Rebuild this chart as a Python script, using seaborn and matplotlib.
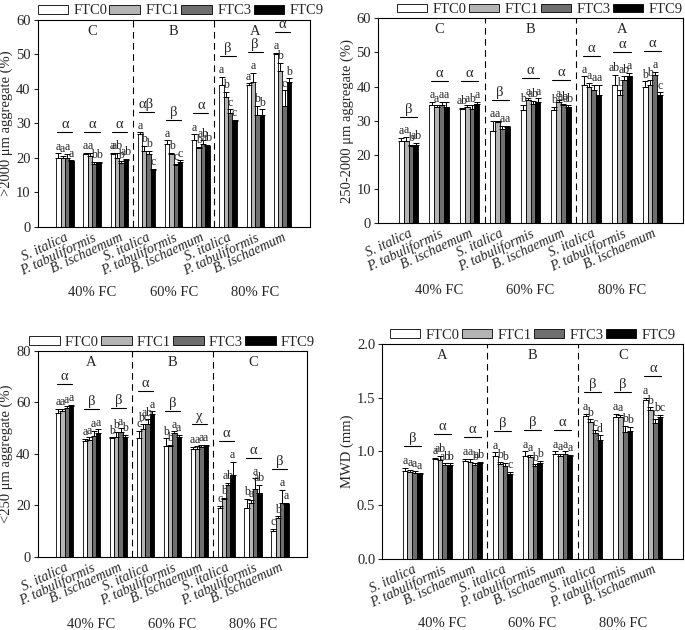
import numpy as np
import pandas as pd
import matplotlib
matplotlib.use('Agg')
import matplotlib.pyplot as plt
import seaborn as sns
from matplotlib.patches import Patch

# categories
moisture = ['40% FC', '60% FC', '80% FC']
species = ['S. italica', 'P. tabuliformis', 'B. ischaemum']
ftc = ['FTC0', 'FTC1', 'FTC3', 'FTC9']
ftc_colors = ['white', '#b4b4b4', '#6e6e6e', 'black']

# >2000 um aggregate (%), groups in order 40S,40P,40B,60S,...; each row FTC0,1,3,9
gt2000_mean = [[20, 20, 20, 19], [21, 20.5, 18.3, 18.5], [21, 20, 18.5, 19.2],
               [27, 22, 21, 16.5], [24, 21, 17.8, 18.7], [25, 22.7, 24, 23.5],
               [41, 37.5, 33, 30.5], [41, 42, 32.5, 32.5], [50, 45, 35, 42]]
gt2000_err = [[1.3, 0.5, 1.2, 0.3], [0.5, 1.0, 0.5, 0.3], [0.5, 1.5, 0.5, 0.5],
              [0.3, 1.5, 1.0, 0.3], [1.0, 0.5, 0.5, 0.5], [1.8, 0.5, 1.0, 0.3],
              [2.5, 1.5, 1.0, 0.5], [0.5, 2.5, 2.5, 1.5], [0.3, 2.5, 4.5, 1.0]]
gt2000_letters = [['a', 'a', 'a', 'a'], ['a', 'a', 'b', 'b'], ['a', 'ab', 'b', 'ab'],
                  ['a', 'b', 'b', 'c'], ['a', 'b', 'c', 'c'], ['a', 'b', 'ab', 'ab'],
                  ['a', 'b', 'c', 'c'], ['a', 'a', 'b', 'b'], ['a', 'b', 'c', 'b']]
gt2000_group = ['α', 'α', 'α', 'αβ', 'β', 'α', 'β', 'β', 'α']
gt2000_block = ['C', 'B', 'A']

# 250-2000 um aggregate (%)
mid_mean = [[24, 24, 22.5, 23], [34.5, 34, 34.5, 34], [33.5, 34, 33.5, 35],
            [27, 29.5, 27.5, 28], [33, 36, 35, 35.5], [33, 35.5, 34.5, 34],
            [40.5, 40, 39, 37.5], [40.5, 37.5, 42, 43], [40, 40.5, 43.5, 37.5]]
mid_err = [[1.0, 1.2, 0.5, 0.5], [1.0, 0.5, 1.0, 1.5], [0.3, 0.5, 1.0, 0.5],
           [3.0, 0.5, 1.0, 0.5], [1.5, 0.5, 0.8, 1.0], [1.0, 0.5, 0.5, 0.5],
           [2.5, 1.0, 1.5, 3.0], [3.0, 1.5, 1.0, 1.0], [1.5, 1.5, 0.8, 0.8]]
mid_letters = [['a', 'a', 'b', 'ab'], ['a', 'a', 'a', 'a'], ['ab', 'a', 'b', 'a'],
               ['a', 'a', 'a', 'a'], ['b', 'a', 'ab', 'a'], ['b', 'a', 'ab', 'ab'],
               ['a', 'a', 'a', 'a'], ['ab', 'b', 'ab', 'a'], ['b', 'b', 'a', 'c']]
mid_group = ['β', 'α', 'α', 'β', 'α', 'α', 'α', 'α', 'α']
mid_block = ['C', 'B', 'A']

# <250 um aggregate (%)
lt250_mean = [[56, 56.5, 58, 58.5], [45, 45.5, 47, 48], [46, 46.5, 48.5, 46.5],
              [46, 49.5, 51.5, 55.5], [43, 43, 48, 46.5], [42, 42, 42.5, 43],
              [19, 22.5, 28, 32], [19, 21, 26.5, 25], [10, 15, 21, 20.5]]
lt250_err = [[1.5, 1.0, 0.5, 0.5], [0.8, 1.0, 2.0, 1.5], [0.5, 2.0, 1.5, 1.0],
             [3.0, 2.0, 2.0, 1.0], [3.0, 0.5, 0.8, 1.0], [0.8, 1.0, 1.0, 0.5],
             [0.8, 0.5, 0.8, 5.0], [3.5, 1.0, 4.0, 3.0], [1.0, 0.8, 5.0, 0.5]]
lt250_letters = [['a', 'a', 'a', 'a'], ['a', 'a', 'a', 'a'], ['b', 'b', 'a', 'b'],
                 ['c', 'bc', 'ab', 'a'], ['b', 'b', 'a', 'a'], ['a', 'a', 'a', 'a'],
                 ['c', 'b', 'ab', 'a'], ['b', 'a', 'a', 'ab'], ['c', 'b', 'a', 'a']]
lt250_group = ['α', 'β', 'β', 'α', 'β', 'χ', 'α', 'α', 'β']
lt250_block = ['A', 'B', 'C']

# MWD (mm)
mwd_mean = [[0.82, 0.81, 0.80, 0.79], [0.93, 0.92, 0.87, 0.87], [0.91, 0.90, 0.87, 0.89],
            [0.96, 0.88, 0.86, 0.79], [0.96, 0.95, 0.86, 0.89], [0.98, 0.96, 0.98, 0.96],
            [1.33, 1.27, 1.17, 1.11], [1.32, 1.32, 1.18, 1.19], [1.48, 1.39, 1.26, 1.32]]
mwd_err = [[0.03, 0.02, 0.02, 0.01], [0.01, 0.04, 0.02, 0.02], [0.02, 0.03, 0.02, 0.01],
           [0.03, 0.02, 0.03, 0.02], [0.04, 0.02, 0.02, 0.02], [0.02, 0.02, 0.02, 0.01],
           [0.02, 0.03, 0.03, 0.04], [0.03, 0.02, 0.06, 0.04], [0.02, 0.02, 0.04, 0.02]]
mwd_letters = [['a', 'a', 'a', 'a'], ['a', 'ab', 'ab', 'b'], ['a', 'a', 'b', 'ab'],
               ['a', 'b', 'b', 'c'], ['a', 'a', 'b', 'b'], ['a', 'a', 'a', 'a'],
               ['a', 'b', 'c', 'd'], ['a', 'a', 'b', 'b'], ['a', 'b', 'c', 'bc']]
mwd_group = ['β', 'α', 'α', 'β', 'β', 'α', 'β', 'β', 'α']
mwd_block = ['A', 'B', 'C']

sns.set_theme(style='white')
plt.rcParams['font.family'] = ['Liberation Serif', 'DejaVu Serif']

group_names = [m + ' ' + s for m in moisture for s in species]


def panel(ax, mean, err, letters, group_sym, blocks, ymax, yticks, ylabel, fmt, lab_y, leg_x):
    rows = []
    for gi, g in enumerate(group_names):
        for fi, f in enumerate(ftc):
            rows.append({'group': g, 'FTC': f, 'value': mean[gi][fi]})
    df = pd.DataFrame(rows)
    sns.barplot(data=df, x='group', y='value', hue='FTC', order=group_names,
                hue_order=ftc, palette=ftc_colors, edgecolor='black', linewidth=0.6,
                width=0.64, gap=0, errorbar=None, legend=False, ax=ax)
    bar_conts = list(ax.containers)
    err = np.array(err)
    mean = np.array(mean)
    tops = np.zeros_like(mean)
    for fi, cont in enumerate(bar_conts):
        xs = np.array([b.get_x() + b.get_width() / 2 for b in cont])
        e = err[:, fi]
        ax.errorbar(xs, mean[:, fi], yerr=[np.zeros_like(e), e], fmt='none',
                    ecolor='black', elinewidth=0.7, capsize=2.5, capthick=0.7)
        tops[:, fi] = mean[:, fi] + e
        for gi, x in enumerate(xs):
            ax.text(x, tops[gi, fi] + ymax * 0.003, letters[gi][fi], ha='center',
                    va='bottom', fontsize=8.5)
    for gi in range(9):
        top = tops[gi].max() + ymax * 0.1
        ax.plot([gi - 0.28, gi + 0.28], [top, top], color='black', lw=0.8)
        ax.text(gi, top + ymax * 0.005, group_sym[gi], ha='center', va='bottom', fontsize=10.5)
    for bi, b in enumerate(blocks):
        ax.text(3 * bi + 1, ymax * 0.975, b, ha='center', va='top', fontsize=10.5)
    for x in [2.5, 5.5]:
        ax.axvline(x, color='black', lw=0.8, ls=(0, (6, 4)))
    ax.set_xlim(-1, 9)
    ax.set_ylim(0, ymax)
    ax.set_yticks(yticks)
    ax.set_yticklabels([fmt.format(t) for t in yticks], fontsize=10.5)
    ax.set_xticks(range(9))
    ax.set_xticklabels(species * 3, rotation=25, ha='right', rotation_mode='anchor',
                       fontsize=10, style='italic')
    ax.tick_params(axis='x', length=0, pad=3)
    ax.tick_params(axis='y', direction='out', length=3, width=0.8, left=True, pad=2)
    ax.set_xlabel('')
    ax.set_ylabel(ylabel, fontsize=10.5, labelpad=2)
    for sp in ax.spines.values():
        sp.set_color('black')
        sp.set_linewidth(0.8)
    trans = ax.get_xaxis_transform()
    for mi, m in enumerate(moisture):
        ax.text(3 * mi + 1, lab_y, m, transform=trans, ha='center', va='center', fontsize=10.5)
    handles = [Patch(facecolor=c, edgecolor='black', linewidth=0.6) for c in ftc_colors]
    ax.legend(handles, ftc, loc='lower center', bbox_to_anchor=(leg_x, 1.0), ncol=4,
              frameon=False, handlelength=2.1, handleheight=0.55, columnspacing=0.15,
              handletextpad=0.35, fontsize=10.5, borderaxespad=0.05, borderpad=0.1)


fig = plt.figure(figsize=(6.85, 6.3), dpi=100)
ax1 = fig.add_axes([0.055, 0.640, 0.397, 0.329])
ax2 = fig.add_axes([0.552, 0.646, 0.445, 0.325])
ax3 = fig.add_axes([0.055, 0.116, 0.393, 0.327])
ax4 = fig.add_axes([0.558, 0.113, 0.439, 0.341])

panel(ax1, gt2000_mean, gt2000_err, gt2000_letters, gt2000_group, gt2000_block,
      60, [0, 10, 20, 30, 40, 50, 60], '>2000 μm aggregate (%)', '{:.0f}', -0.315, 0.525)
panel(ax2, mid_mean, mid_err, mid_letters, mid_group, mid_block,
      60, [0, 10, 20, 30, 40, 50, 60], '250-2000 μm aggregate (%)', '{:.0f}', -0.33, 0.53)
panel(ax3, lt250_mean, lt250_err, lt250_letters, lt250_group, lt250_block,
      80, [0, 20, 40, 60, 80], '<250 μm aggregate (%)', '{:.0f}', -0.33, 0.5)
panel(ax4, mwd_mean, mwd_err, mwd_letters, mwd_group, mwd_block,
      2.0, [0.0, 0.5, 1.0, 1.5, 2.0], 'MWD (mm)', '{:.1f}', -0.30, 0.5)

fig.savefig('out.png', dpi=100)
